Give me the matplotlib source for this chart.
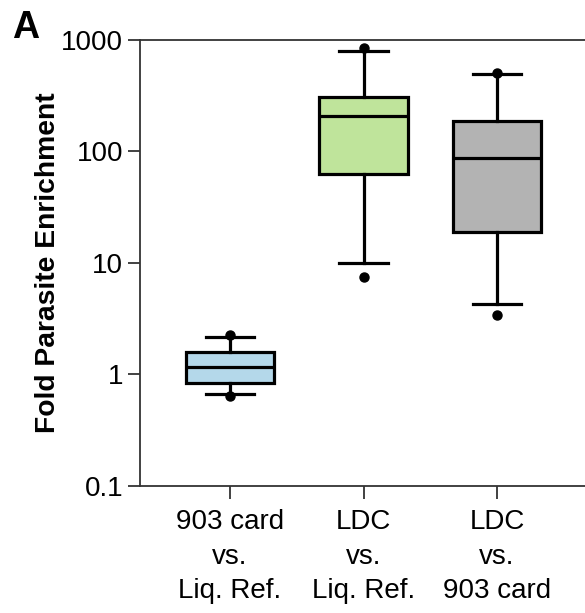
import matplotlib
matplotlib.use("Agg")
import matplotlib.pyplot as plt

plt.rcParams['font.family'] = ['Liberation Sans', 'DejaVu Sans']

categories = ["903 card\nvs.\nLiq. Ref.", "LDC\nvs.\nLiq. Ref.", "LDC\nvs.\n903 card"]
whisker_low = [0.66, 9.9, 4.25]
q1 = [0.84, 62.5, 18.9]
median = [1.17, 208, 88]
q3 = [1.58, 310, 186]
whisker_high = [2.14, 792, 498]
point_low = [0.63, 7.5, 3.4]
point_high = [2.25, 850, 505]
colors = ["#b4d8ea", "#bfe49b", "#b3b3b3"]
yticks = [0.1, 1, 10, 100, 1000]
ytick_labels = ["0.1", "1", "10", "100", "1000"]

W, H = 585, 613
fig = plt.figure(figsize=(W / 100, H / 100), dpi=100)
left_px, right_px, top_px, bot_px = 140, 585, 40, 485.5
ax = fig.add_axes([left_px / W, 1 - bot_px / H, (right_px - left_px) / W, (bot_px - top_px) / H])

positions = [1, 2, 3]
stats = []
for i in range(3):
    stats.append(dict(med=median[i], q1=q1[i], q3=q3[i], whislo=whisker_low[i],
                      whishi=whisker_high[i], fliers=[]))
lw = 2.3
bp = ax.bxp(stats, positions=positions, widths=0.66, patch_artist=True, showfliers=False,
            boxprops=dict(linewidth=lw, edgecolor='black'),
            medianprops=dict(linewidth=lw, color='black'),
            whiskerprops=dict(linewidth=lw, color='black'),
            capprops=dict(linewidth=lw, color='black'),
            capwidths=0.36)
for patch, c in zip(bp['boxes'], colors):
    patch.set_facecolor(c)

for i, p in enumerate(positions):
    ax.plot([p, p], [point_low[i], point_high[i]], linestyle='none', marker='o',
            markersize=6.5, color='black', zorder=5)

ax.set_yscale('log')
ax.set_ylim(0.1, 1000)
ax.set_xlim(0.326, 3.659)
ax.set_yticks(yticks)
ax.set_yticklabels(ytick_labels)
ax.yaxis.set_minor_locator(matplotlib.ticker.NullLocator())
ax.set_xticks(positions)
ax.set_xticklabels(categories, linespacing=1.42)

spine_color = '#333333'
for s in ['left', 'bottom', 'top']:
    ax.spines[s].set_linewidth(1.3)
    ax.spines[s].set_color(spine_color)
ax.spines['right'].set_visible(False)
ax.tick_params(axis='y', length=9, width=1.3, color=spine_color, labelsize=20, pad=3)
ax.tick_params(axis='x', length=9, width=1.3, color=spine_color, labelsize=20, pad=8)

fig.text(48 / W, 1 - 262.5 / H, "Fold Parasite Enrichment", rotation=90, ha='center',
         va='center', fontsize=20.3, fontweight='bold')
fig.text(12 / W, 1 - 38 / H, "A", ha='left', va='baseline', fontsize=27, fontweight='bold')

fig.savefig("out.png", dpi=100)
